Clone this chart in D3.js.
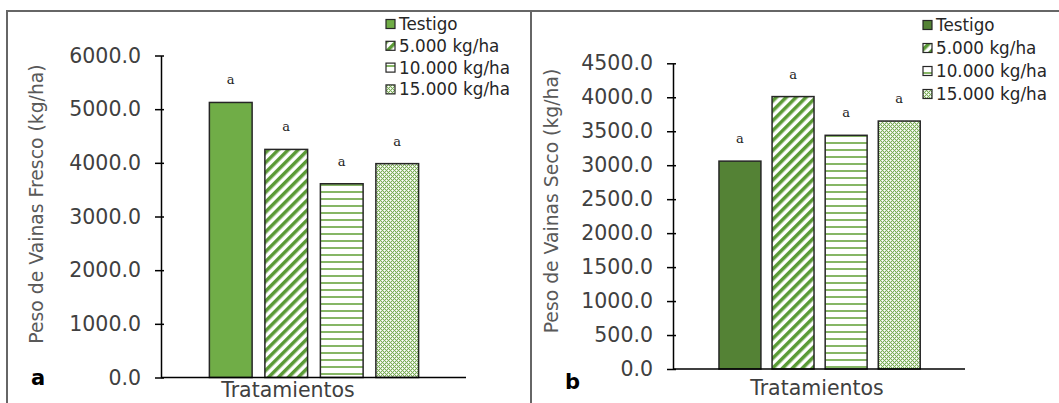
<!DOCTYPE html>
<html><head><meta charset="utf-8">
<script src="https://cdn.jsdelivr.net/npm/d3@7"></script>
<style>html,body{margin:0;padding:0;background:#fff;}svg{display:block;}</style>
</head><body>
<svg id="chart" width="1059" height="403"></svg>
<script>
// ---- data ----
const categories = ["Testigo", "5.000 kg/ha", "10.000 kg/ha", "15.000 kg/ha"];
const freshValues = [5125, 4250, 3610, 3985];
const dryValues = [3060, 4010, 3440, 3650];
const freshTicks = [0, 1000, 2000, 3000, 4000, 5000, 6000];
const dryTicks = [0, 500, 1000, 1500, 2000, 2500, 3000, 3500, 4000, 4500];
const letters = ["a", "a", "a", "a"];

const svg = d3.select("#chart");
const defs = svg.append("defs");

// patterns
function stripes(id, color) {
  const p = defs.append("pattern").attr("id", id).attr("patternUnits", "userSpaceOnUse")
    .attr("width", 7).attr("height", 7).attr("patternTransform", "rotate(45)");
  p.append("rect").attr("width", 7).attr("height", 7).attr("fill", "#fff");
  p.append("rect").attr("width", 3.5).attr("height", 7).attr("fill", color);
}
function hlines(id, color) {
  const p = defs.append("pattern").attr("id", id).attr("patternUnits", "userSpaceOnUse")
    .attr("width", 8).attr("height", 7);
  p.append("rect").attr("width", 8).attr("height", 7).attr("fill", "#fff");
  p.append("rect").attr("y", 2).attr("width", 8).attr("height", 2).attr("fill", color);
}
function dots(id, color) {
  const p = defs.append("pattern").attr("id", id).attr("patternUnits", "userSpaceOnUse")
    .attr("width", 4).attr("height", 4);
  p.append("rect").attr("width", 4).attr("height", 4).attr("fill", "#dbe9d0");
  p.append("path").attr("d", "M0,0h1v1h-1zM2,2h1v1h-1zM1,1h1v1h-1zM3,3h1v1h-1zM3,1h1v1h-1zM1,3h1v1h-1z").attr("fill", color);
  p.append("rect").attr("x", 2).attr("y", 0).attr("width", 1).attr("height", 1).attr("fill", "#fff");
  p.append("rect").attr("x", 0).attr("y", 2).attr("width", 1).attr("height", 1).attr("fill", "#fff");
}
stripes("stA", "#5a9a36"); hlines("hlA", "#86b665"); dots("dtA", "#7aad57");
stripes("stB", "#5a9a36"); hlines("hlB", "#86b665"); dots("dtB", "#7aad57");

// frames
svg.append("path").attr("d", "M7,403V11H1059").attr("fill", "none").attr("stroke", "#666").attr("stroke-width", 2);
svg.append("line").attr("x1", 531).attr("x2", 531).attr("y1", 11).attr("y2", 403).attr("stroke", "#666").attr("stroke-width", 2);

function panel(cfg) {
  const g = svg.append("g");
  const y = d3.scaleLinear().domain([0, cfg.max]).range(cfg.yRange);
  const x = d3.scaleBand().domain(categories).range(cfg.xRange).paddingInner(cfg.pad).paddingOuter(cfg.pad / 2);
  const fills = [cfg.base, "url(#" + cfg.p[0] + ")", "url(#" + cfg.p[1] + ")", "url(#" + cfg.p[2] + ")"];

  // bars
  g.selectAll("rect.bar").data(cfg.values).join("rect").attr("class", "bar")
    .attr("x", (d, i) => x(categories[i])).attr("width", x.bandwidth())
    .attr("y", d => y(d)).attr("height", d => y(0) - y(d))
    .attr("fill", (d, i) => fills[i]).attr("stroke", "#262626").attr("stroke-width", 1.5);

  // letters
  g.selectAll("text.sig").data(cfg.values).join("text").attr("class", "sig")
    .attr("x", (d, i) => x(categories[i]) + x.bandwidth() / 2).attr("y", d => y(d) - 18)
    .attr("text-anchor", "middle").attr("font-family", "DejaVu Serif").attr("font-size", 13)
    .attr("fill", "#222").text((d, i) => letters[i]);

  // y axis
  const ya = d3.axisLeft(y).tickValues(cfg.ticks).tickFormat(d3.format(".1f")).tickSizeInner(6).tickSizeOuter(0).tickPadding(14);
  const yg = g.append("g").attr("transform", `translate(${cfg.axisX},0)`).call(ya);
  yg.select(".domain").attr("stroke", "#000").attr("stroke-width", 1.5);
  yg.selectAll(".tick line").attr("stroke", "#000").attr("stroke-width", 1.5).attr("x2", -6).attr("x1", 3);
  yg.selectAll(".tick text").attr("font-family", "DejaVu Sans").attr("font-size", 20.5).attr("fill", "#404040");

  // x axis line
  g.append("line").attr("x1", cfg.axisX).attr("x2", cfg.xEnd).attr("y1", y(0)).attr("y2", y(0))
    .attr("stroke", "#000").attr("stroke-width", 1.5);

  // titles
  g.append("text").attr("transform", `translate(${cfg.titleX},${cfg.titleY}) rotate(-90)`)
    .attr("text-anchor", "middle").attr("dominant-baseline", "central")
    .attr("font-family", "DejaVu Sans").attr("font-size", 18.8).attr("fill", "#595959").text(cfg.yTitle);
  g.append("text").attr("x", cfg.xtX).attr("y", cfg.xtY).attr("text-anchor", "middle")
    .attr("font-family", "DejaVu Sans").attr("font-size", 20.5).attr("fill", "#404040").text("Tratamientos");
  g.append("text").attr("x", cfg.lblX).attr("y", cfg.lblY).attr("font-family", "DejaVu Sans")
    .attr("font-weight", "bold").attr("font-size", 21).attr("fill", "#000").text(cfg.label);

  // legend
  const lg = g.append("g");
  categories.forEach((c, i) => {
    const yy = cfg.legY + i * cfg.legStep;
    lg.append("rect").attr("x", cfg.legX).attr("y", yy - 4.5).attr("width", 9).attr("height", 9)
      .attr("fill", fills[i]).attr("stroke", "#262626").attr("stroke-width", 1.2);
    lg.append("text").attr("x", cfg.legX + 13).attr("y", yy).attr("dominant-baseline", "central")
      .attr("font-family", "DejaVu Sans").attr("font-size", 16.8).attr("fill", "#262626").text(c);
  });
}

panel({ values: freshValues, ticks: freshTicks, max: 6000, yRange: [377.5, 55.5], xRange: [203, 425], pad: 0.23,
  base: "#70ad47", p: ["stA", "hlA", "dtA"], axisX: 161, xEnd: 466, titleX: 36, titleY: 204,
  yTitle: "Peso de Vainas Fresco (kg/ha)", xtX: 288, xtY: 397, lblX: 31, lblY: 385, label: "a",
  legX: 386, legY: 24, legStep: 21.8 });

panel({ values: dryValues, ticks: dryTicks, max: 4500, yRange: [369, 63.3], xRange: [713.4, 925.8], pad: 0.21,
  base: "#548235", p: ["stB", "hlB", "dtB"], axisX: 673, xEnd: 965, titleX: 551, titleY: 201,
  yTitle: "Peso de Vainas Seco (kg/ha)", xtX: 817, xtY: 395, lblX: 565, lblY: 389, label: "b",
  legX: 923, legY: 25, legStep: 23 });
</script>
</body></html>
